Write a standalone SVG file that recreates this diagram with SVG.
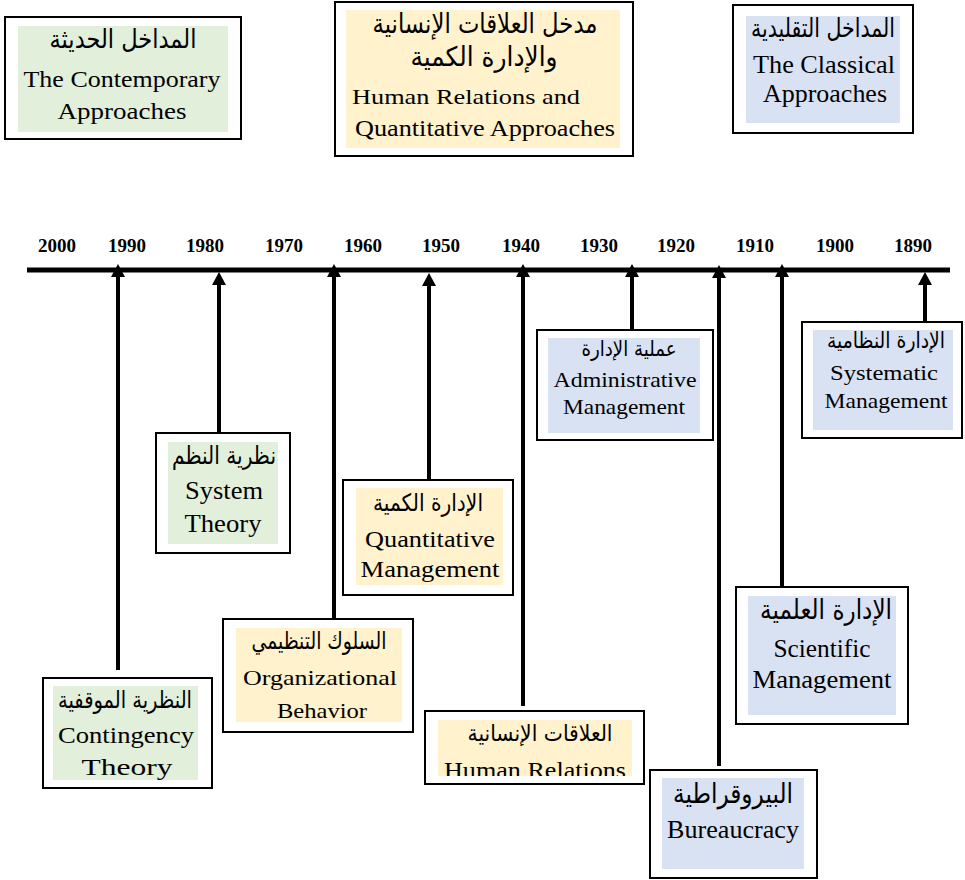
<svg xmlns="http://www.w3.org/2000/svg" width="965" height="880" viewBox="0 0 965 880">
  <style>
    .frame { fill: #ffffff; stroke: #000000; stroke-width: 2; }
    .green { fill: #e2efda; }
    .gold { fill: #fff2cc; }
    .blue { fill: #d9e2f3; }
    .en { font-family: "Liberation Serif", "Times New Roman", serif; fill: #000; text-anchor: middle; }
    .ar { font-family: "DejaVu Sans", "Noto Sans", sans-serif; fill: #000; text-anchor: middle; }
    .year { font-family: "Liberation Serif", "Times New Roman", serif; font-weight: bold; font-size: 19px; fill: #000; text-anchor: middle; }
    .conn { stroke: #000; stroke-width: 4; fill: none; marker-end: url(#head); }
  </style>
  <defs>
    <marker id="head" markerUnits="userSpaceOnUse" viewBox="0 -7 13 14" markerWidth="13" markerHeight="14" refX="5" refY="0" orient="auto">
      <path d="M0,-7 L13,0 L0,7 Z" fill="#000"/>
    </marker>
    <clipPath id="clipContingency"><rect x="53" y="686" width="145" height="94"/></clipPath>
    <clipPath id="clipHuman"><rect x="438" y="720" width="194" height="56"/></clipPath>
  </defs>

  <rect width="965" height="880" fill="#ffffff"/>

  <!-- Era headers -->
  <g id="era-contemporary">
    <rect class="frame" x="5" y="17" width="236" height="122"/>
    <rect class="green" x="18" y="26" width="210" height="106"/>
    <text class="ar" x="123" y="48" font-size="26" textLength="147" lengthAdjust="spacingAndGlyphs">المداخل الحديثة</text>
    <text class="en" x="122" y="87" font-size="23.5" textLength="197" lengthAdjust="spacingAndGlyphs">The Contemporary</text>
    <text class="en" x="122" y="119" font-size="23.5" textLength="129" lengthAdjust="spacingAndGlyphs">Approaches</text>
  </g>

  <g id="era-human-quantitative">
    <rect class="frame" x="335" y="2" width="298" height="154"/>
    <rect class="gold" x="346" y="10" width="274" height="138"/>
    <text class="ar" x="485" y="33" font-size="27" textLength="225" lengthAdjust="spacingAndGlyphs">مدخل العلاقات الإنسانية</text>
    <text class="ar" x="484" y="66" font-size="27" textLength="147" lengthAdjust="spacingAndGlyphs">والإدارة الكمية</text>
    <text class="en" x="466" y="104" font-size="22" textLength="228" lengthAdjust="spacingAndGlyphs">Human Relations and</text>
    <text class="en" x="485" y="136" font-size="22.5" textLength="260" lengthAdjust="spacingAndGlyphs">Quantitative Approaches</text>
  </g>

  <g id="era-classical">
    <rect class="frame" x="733" y="5" width="180" height="128"/>
    <rect class="blue" x="746" y="16" width="154" height="107"/>
    <text class="ar" x="823" y="37" font-size="26" textLength="144" lengthAdjust="spacingAndGlyphs">المداخل التقليدية</text>
    <text class="en" x="824" y="73" font-size="25" textLength="142" lengthAdjust="spacingAndGlyphs">The Classical</text>
    <text class="en" x="825" y="102" font-size="25" textLength="124" lengthAdjust="spacingAndGlyphs">Approaches</text>
  </g>

  <!-- Time axis -->
  <g id="axis">
    <line x1="27" y1="270" x2="950" y2="270" stroke="#000" stroke-width="5"/>
    <text class="year" x="57" y="252">2000</text>
    <text class="year" x="127" y="252">1990</text>
    <text class="year" x="205" y="252">1980</text>
    <text class="year" x="284" y="252">1970</text>
    <text class="year" x="363" y="252">1960</text>
    <text class="year" x="441" y="252">1950</text>
    <text class="year" x="521" y="252">1940</text>
    <text class="year" x="599" y="252">1930</text>
    <text class="year" x="676" y="252">1920</text>
    <text class="year" x="755" y="252">1910</text>
    <text class="year" x="835" y="252">1900</text>
    <text class="year" x="913" y="252">1890</text>
  </g>

  <!-- Connectors from each school up to its date -->
  <g id="connectors">
    <path class="conn" d="M118,670 V272"/>
    <path class="conn" d="M219,433 V280"/>
    <path class="conn" d="M334,619 V272"/>
    <path class="conn" d="M429,480 V281"/>
    <path class="conn" d="M523,706 V272"/>
    <path class="conn" d="M632,330 V272"/>
    <path class="conn" d="M719,766 V273"/>
    <path class="conn" d="M782,593 V272"/>
    <path class="conn" d="M925,322 V280"/>
  </g>

  <!-- Schools -->
  <g id="systematic-management">
    <rect class="frame" x="802" y="322" width="160" height="116"/>
    <rect class="blue" x="813" y="330" width="140" height="100"/>
    <text class="ar" x="886" y="348" font-size="22" textLength="118" lengthAdjust="spacingAndGlyphs">الإدارة النظامية</text>
    <text class="en" x="884" y="380" font-size="21" textLength="108" lengthAdjust="spacingAndGlyphs">Systematic</text>
    <text class="en" x="886" y="408" font-size="21" textLength="123" lengthAdjust="spacingAndGlyphs">Management</text>
  </g>

  <g id="administrative-management">
    <rect class="frame" x="537" y="330" width="176" height="110"/>
    <rect class="blue" x="548" y="338" width="152" height="95"/>
    <text class="ar" x="629" y="356" font-size="21" textLength="95" lengthAdjust="spacingAndGlyphs">عملية الإدارة</text>
    <text class="en" x="625" y="387" font-size="21" textLength="143" lengthAdjust="spacingAndGlyphs">Administrative</text>
    <text class="en" x="624" y="414" font-size="21" textLength="122" lengthAdjust="spacingAndGlyphs">Management</text>
  </g>

  <g id="system-theory">
    <rect class="frame" x="156" y="433" width="134" height="120"/>
    <rect class="green" x="168" y="442" width="110" height="102"/>
    <text class="ar" x="224" y="464" font-size="25" textLength="104" lengthAdjust="spacingAndGlyphs">نظرية النظم</text>
    <text class="en" x="224" y="499" font-size="24.5" textLength="78" lengthAdjust="spacingAndGlyphs">System</text>
    <text class="en" x="223" y="532" font-size="24.5" textLength="77" lengthAdjust="spacingAndGlyphs">Theory</text>
  </g>

  <g id="quantitative-management">
    <rect class="frame" x="343" y="480" width="170" height="115"/>
    <rect class="gold" x="356" y="488" width="147" height="97"/>
    <text class="ar" x="428" y="511" font-size="24" textLength="110" lengthAdjust="spacingAndGlyphs">الإدارة الكمية</text>
    <text class="en" x="430" y="547" font-size="23.5" textLength="130" lengthAdjust="spacingAndGlyphs">Quantitative</text>
    <text class="en" x="430" y="577" font-size="23.5" textLength="139" lengthAdjust="spacingAndGlyphs">Management</text>
  </g>

  <g id="scientific-management">
    <rect class="frame" x="736" y="587" width="172" height="137"/>
    <rect class="blue" x="748" y="596" width="148" height="119"/>
    <text class="ar" x="826" y="619" font-size="27" textLength="132" lengthAdjust="spacingAndGlyphs">الإدارة العلمية</text>
    <text class="en" x="822" y="657" font-size="25" textLength="97" lengthAdjust="spacingAndGlyphs">Scientific</text>
    <text class="en" x="822" y="688" font-size="25" textLength="139" lengthAdjust="spacingAndGlyphs">Management</text>
  </g>

  <g id="organizational-behavior">
    <rect class="frame" x="223" y="619" width="190" height="113"/>
    <rect class="gold" x="236" y="628" width="166" height="94"/>
    <text class="ar" x="319" y="649" font-size="24" textLength="135" lengthAdjust="spacingAndGlyphs">السلوك التنظيمي</text>
    <text class="en" x="320" y="685" font-size="22" textLength="154" lengthAdjust="spacingAndGlyphs">Organizational</text>
    <text class="en" x="322" y="718" font-size="22" textLength="90" lengthAdjust="spacingAndGlyphs">Behavior</text>
  </g>

  <g id="contingency-theory">
    <rect class="frame" x="43" y="678" width="169" height="110"/>
    <rect class="green" x="53" y="686" width="145" height="94"/>
    <g clip-path="url(#clipContingency)">
      <text class="ar" x="125" y="708" font-size="24" textLength="134" lengthAdjust="spacingAndGlyphs">النظرية الموقفية</text>
      <text class="en" x="126" y="743" font-size="22.5" textLength="136" lengthAdjust="spacingAndGlyphs">Contingency</text>
      <text class="en" x="127" y="775" font-size="22.5" textLength="91" lengthAdjust="spacingAndGlyphs">Theory</text>
    </g>
  </g>

  <g id="human-relations">
    <rect class="frame" x="425" y="711" width="219" height="73"/>
    <rect class="gold" x="438" y="720" width="194" height="56"/>
    <g clip-path="url(#clipHuman)">
      <text class="ar" x="540" y="741" font-size="23" textLength="145" lengthAdjust="spacingAndGlyphs">العلاقات الإنسانية</text>
      <text class="en" x="535" y="778" font-size="22.5" textLength="182" lengthAdjust="spacingAndGlyphs">Human Relations</text>
    </g>
  </g>

  <g id="bureaucracy">
    <rect class="frame" x="650" y="770" width="167" height="108"/>
    <rect class="blue" x="662" y="778" width="142" height="91"/>
    <text class="ar" x="733" y="803" font-size="27" textLength="120" lengthAdjust="spacingAndGlyphs">البيروقراطية</text>
    <text class="en" x="733" y="838" font-size="25" textLength="132" lengthAdjust="spacingAndGlyphs">Bureaucracy</text>
  </g>
</svg>
